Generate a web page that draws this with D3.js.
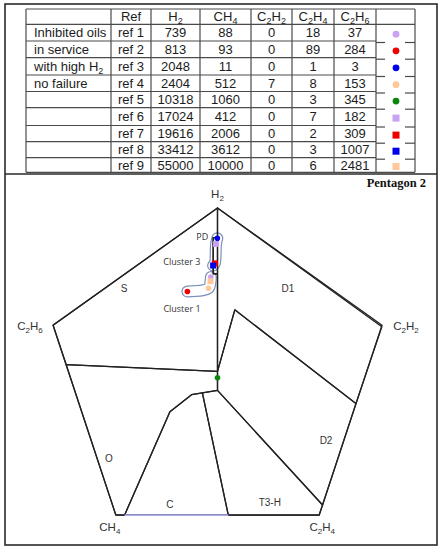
<!DOCTYPE html>
<html><head><meta charset="utf-8">
<script src="https://cdn.jsdelivr.net/npm/d3@7"></script>
<style>body{margin:0;background:#fff}</style>
</head><body>
<svg id="c" width="443" height="550"></svg>
<script>
// ---------------- data ----------------
const refs = ["ref 1","ref 2","ref 3","ref 4","ref 5","ref 6","ref 7","ref 8","ref 9"];
const groupText = ["Inhibited oils","in service","with high H2","no failure","","","","",""];
const headers = ["", "Ref", "H2", "CH4", "C2H2", "C2H4", "C2H6", ""];
const H2   = [739, 813, 2048, 2404, 10318, 17024, 19616, 33412, 55000];
const CH4  = [88, 93, 11, 512, 1060, 412, 2006, 3612, 10000];
const C2H2 = [0, 0, 0, 7, 0, 0, 0, 0, 0];
const C2H4 = [18, 89, 1, 8, 3, 7, 2, 3, 6];
const C2H6 = [37, 284, 3, 153, 345, 182, 309, 1007, 2481];
const markerColor = ["#c9a3f2","#ee0000","#0000ee","#ffc898","#0b870b","#c9a3f2","#ee0000","#0000ee","#ffc898"];
const markerShape = ["circle","circle","circle","circle","circle","square","square","square","square"];
// the source chart shows ref 5 at the pentagon centre
const centreRefs = ["ref 5"];
const cluster3Refs = ["ref 3","ref 6","ref 7","ref 8"];
const cluster1Refs = ["ref 1","ref 9","ref 4","ref 2"];

// Duval Pentagon 2 (gas axes and zone polygons, pentagon units)
const gasOrder = ["H2","C2H6","CH4","C2H4","C2H2"];
const gasAngle = [90, 162, 234, 306, 18];
const pentRadius = 40;
const zones = [
  {name:"PD",   pts:[[0,33],[-1,33],[-1,24.5],[0,24.5]]},
  {name:"D1",   pts:[[0,40],[38,12],[32,-6.1],[4,16],[0,1.5]]},
  {name:"D2",   pts:[[4,16],[32,-6.1],[24.3,-30],[0,-3],[0,1.5]]},
  {name:"T3-H", pts:[[0,-3],[24.3,-30],[23.5,-32.4],[2.5,-32.4],[-3.5,-3.6]]},
  {name:"C",    pts:[[-3.5,-3.6],[2.5,-32.4],[-21.5,-32.4],[-11,-8],[-6,-4]]},
  {name:"O",    pts:[[-3.5,-3.6],[-6,-4],[-11,-8],[-21.5,-32.4],[-23.5,-32.4],[-35,3.1],[0,1.5],[0,-3]]},
  {name:"S",    pts:[[0,1.5],[-35,3.1],[-38,12.4],[0,40],[0,33],[-1,33],[-1,24.5],[0,24.5]]}
];
const zoneLabels = ["S","D1","O","C","T3-H","D2"];

// ---------------- layout ----------------
const svg = d3.select("#c");
const colX = [26,111,151,200,251,292,334,376,415];
const rowY = [9,24.3,41,57.7,75,91.5,107.7,125.5,141.7,157.7,172.3];
const labelPos = {"S":[-21.6,21],"D1":[16.3,21],"O":[-25.1,-19],"C":[-11,-29.8],"T3-H":[12.1,-29.4],"D2":[25.1,-14.8]};

function richText(sel, str, sub, dy){
  let down=false;
  str.split(/(\d+)/).filter(s=>s.length).forEach(p=>{
    const t = sel.append("tspan").text(p);
    if(/^\d+$/.test(p)){ t.attr("font-size",sub).attr("dy",dy); down=true; }
    else if(down){ t.attr("dy",-dy); down=false; }
  });
}

// frame
svg.append("rect").attr("x",5).attr("y",4).attr("width",432).attr("height",541)
  .attr("fill","none").attr("stroke","#2a2a2a").attr("stroke-width",1.6);
svg.append("line").attr("x1",5).attr("x2",437).attr("y1",174).attr("y2",174)
  .attr("stroke","#2a2a2a").attr("stroke-width",1.6);

// ---------------- table ----------------
const tbl = svg.append("g").attr("font-family","'Liberation Sans', Arial, sans-serif").attr("font-size",13).attr("fill","#1c1c1c");
const gridC = "#4a4a4a";
colX.forEach(x=>tbl.append("line").attr("x1",x).attr("x2",x).attr("y1",rowY[0]).attr("y2",rowY[rowY.length-1]).attr("stroke",gridC).attr("stroke-width",1.2));
rowY.forEach((y,i)=>{
  const full = (i<=1 || i===rowY.length-1);
  tbl.append("line").attr("x1",colX[0]).attr("x2",full?colX[8]:colX[7]).attr("y1",y).attr("y2",y).attr("stroke",gridC).attr("stroke-width",1.2);
  if(!full){
    tbl.append("line").attr("x1",colX[7]).attr("x2",colX[7]+9).attr("y1",y+1.5).attr("y2",y+1.5).attr("stroke",gridC).attr("stroke-width",1.2);
    tbl.append("line").attr("x1",colX[8]-10).attr("x2",colX[8]).attr("y1",y+1.5).attr("y2",y+1.5).attr("stroke",gridC).attr("stroke-width",1.2);
  }
});
const cx = i => (colX[i]+colX[i+1])/2;
headers.forEach((h,i)=>{
  if(!h) return;
  const t = tbl.append("text").attr("x",cx(i)).attr("y",(rowY[0]+rowY[1])/2+4.5).attr("text-anchor","middle");
  richText(t,h,9,3);
});
const cols = [H2,CH4,C2H2,C2H4,C2H6];
refs.forEach((r,k)=>{
  const yb = (rowY[k+1]+rowY[k+2])/2+4.5;
  if(groupText[k]){ const t=tbl.append("text").attr("x",34).attr("y",yb); richText(t,groupText[k],9,3); }
  tbl.append("text").attr("x",cx(1)).attr("y",yb).attr("text-anchor","middle").text(r);
  cols.forEach((c,j)=>tbl.append("text").attr("x",cx(j+2)).attr("y",yb).attr("text-anchor","middle").text(c[k]));
  const my = (rowY[k+1]+rowY[k+2])/2 + 1.5;
  if(markerShape[k]==="circle") tbl.append("circle").attr("cx",396).attr("cy",my).attr("r",3.4).attr("fill",markerColor[k]);
  else tbl.append("rect").attr("x",392.5).attr("y",my-3.5).attr("width",7).attr("height",7).attr("fill",markerColor[k]);
});

// ---------------- pentagon ----------------
const x = d3.scaleLinear().domain([-38.04,38.04]).range([53,382]);
const y = d3.scaleLinear().domain([-32.36,40]).range([515,208]);
const P = p=>[x(p[0]),y(p[1])];
const vert = gasAngle.map(a=>[pentRadius*Math.cos(a*Math.PI/180), pentRadius*Math.sin(a*Math.PI/180)]);

function centroid(k){
  const v = {H2:H2[k],CH4:CH4[k],C2H2:C2H2[k],C2H4:C2H4[k],C2H6:C2H6[k]};
  const tot = d3.sum(gasOrder,g=>v[g]);
  const pts = gasOrder.map((g,i)=>{const p=100*v[g]/tot; const a=gasAngle[i]*Math.PI/180; return [p*Math.cos(a),p*Math.sin(a)];});
  return d3.polygonCentroid(pts);
}
const pos = refs.map((r,k)=> centreRefs.includes(r) ? [0,0] : centroid(k));
const px = refs.map((r,k)=>P(pos[k]));

const pg = svg.append("g");
// cluster outlines
const line = d3.line().curve(d3.curveCatmullRom);
[cluster3Refs, cluster1Refs].forEach(cl=>{
  const pts = cl.map(r=>px[refs.indexOf(r)]);
  pg.append("path").attr("d",line(pts)).attr("fill","none").attr("stroke","#7c91bb").attr("stroke-width",12).attr("stroke-linecap","round").attr("stroke-linejoin","round");
  pg.append("path").attr("d",line(pts)).attr("fill","none").attr("stroke","#fff").attr("stroke-width",9.6).attr("stroke-linecap","round").attr("stroke-linejoin","round");
});
// zones
zones.forEach(z=>{
  pg.append("path").attr("d","M"+z.pts.map(P).join("L")+"Z").attr("fill","none").attr("stroke","#222").attr("stroke-width",1.3).attr("stroke-linejoin","round");
});
pg.append("path").attr("d","M"+vert.map(P).join("L")+"Z").attr("fill","none").attr("stroke","#222").attr("stroke-width",1.3);
const cz = zones.find(z=>z.name==="C").pts;
pg.append("line").attr("x1",x(cz[1][0])).attr("x2",x(cz[2][0])).attr("y1",y(cz[1][1])).attr("y2",y(cz[2][1])).attr("stroke","#a9a9e6").attr("stroke-width",1.6);

// points
refs.forEach((r,k)=>{
  const [X,Y]=px[k];
  if(markerShape[k]==="circle") pg.append("circle").attr("cx",X).attr("cy",Y).attr("r",2.8).attr("fill",markerColor[k]);
  else pg.append("rect").attr("x",X-3).attr("y",Y-3).attr("width",6).attr("height",6).attr("fill",markerColor[k]);
});

// vertex labels
const vl = svg.append("g").attr("font-family","'Liberation Sans', Arial, sans-serif").attr("font-size",11.5).attr("fill","#333").attr("text-anchor","middle");
const vOff = [[0,-10],[-23,5],[-6,16],[3,16],[24,5]];
gasOrder.forEach((g,i)=>{
  const [X,Y]=P(vert[i]);
  const t = vl.append("text").attr("x",X+vOff[i][0]).attr("y",Y+vOff[i][1]);
  richText(t,g,8,2.5);
});
// zone labels
const zl = svg.append("g").attr("font-family","'Liberation Sans', Arial, sans-serif").attr("font-size",10).attr("fill","#333").attr("text-anchor","middle");
zoneLabels.forEach(n=>{
  const [X,Y]=P(labelPos[n]);
  zl.append("text").attr("x",X).attr("y",Y+3.5).text(n);
});
// annotations
const an = svg.append("g").attr("font-family","'Open Sans', sans-serif").attr("font-size",9).attr("fill","#333");
an.append("text").attr("x",px[2][0]-21).attr("y",px[2][1]+2).text("PD");
an.append("text").attr("x",px[2][0]-54).attr("y",px[2][1]+27).text("Cluster 3");
an.append("text").attr("x",px[1][0]-24).attr("y",px[1][1]+21).text("Cluster 1");
svg.append("text").attr("x",426).attr("y",187).attr("text-anchor","end")
  .attr("font-family","'Liberation Serif', 'Times New Roman', serif").attr("font-weight","bold").attr("font-size",12.5).attr("fill","#111").text("Pentagon 2");
</script>
</body></html>
